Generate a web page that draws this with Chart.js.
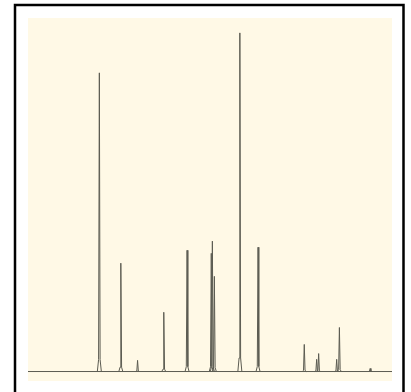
<!DOCTYPE html>
<html>
<head>
<meta charset="utf-8">
<style>
  html, body { margin: 0; padding: 0; background: #ffffff; }
  #wrap { width: 411px; height: 392px; position: relative; }
</style>
<script src="https://cdn.jsdelivr.net/npm/chart.js@4/dist/chart.umd.min.js"></script>
</head>
<body>
<div id="wrap"><canvas id="c" width="411" height="392"></canvas></div>
<script>
// Peak positions (arbitrary x units, 0-100) and relative intensities (tallest = 100)
const peakX      = [19.6, 25.5, 30.1, 37.3, 43.7, 50.35, 50.65, 51.2, 58.2, 63.2, 75.9, 79.3, 79.85, 84.8, 85.55, 94.0];
const peakHeight = [88.2, 32.0,  3.3, 17.5, 35.8, 34.9,  38.5,  28.1, 100,  36.7,  8.0,  3.6,  5.3,   3.6, 13.0,   0.9];
const baselineX  = [0, 100];
const baselineY  = [0, 0];

const HALF_W = 0.14;
const FOOT_W = 0.55;
const LINE_COLOR = '#5c5c52';

const datasets = [];
datasets.push({
  data: baselineX.map((x, i) => ({ x: x, y: baselineY[i] })),
  borderColor: LINE_COLOR, borderWidth: 1, pointRadius: 0, fill: false
});
peakX.forEach((x, i) => {
  datasets.push({
    data: [
      { x: x - FOOT_W, y: 0 },
      { x: x - HALF_W * 1.5, y: peakHeight[i] * 0.04 },
      { x: x, y: peakHeight[i] },
      { x: x + HALF_W * 1.5, y: peakHeight[i] * 0.04 },
      { x: x + FOOT_W, y: 0 }
    ],
    borderColor: LINE_COLOR, borderWidth: 1, pointRadius: 0, fill: false, tension: 0
  });
});

const frame = {
  id: 'frame',
  beforeDraw(chart) {
    const { ctx, chartArea: a } = chart;
    ctx.save();
    ctx.fillStyle = '#fff9e6';
    ctx.fillRect(a.left, a.top, a.right - a.left, a.bottom - a.top);
    ctx.restore();
  },
  afterDraw(chart) {
    const ctx = chart.ctx;
    ctx.save();
    ctx.strokeStyle = '#000000';
    ctx.lineWidth = 2.5;
    ctx.beginPath();
    ctx.moveTo(15, 400);
    ctx.lineTo(15, 5);
    ctx.lineTo(403.5, 5);
    ctx.lineTo(403.5, 400);
    ctx.stroke();
    ctx.restore();
  }
};

new Chart(document.getElementById('c'), {
  type: 'line',
  data: { datasets: datasets },
  options: {
    responsive: false,
    animation: false,
    events: [],
    layout: { padding: { left: 28, top: 18, right: 19, bottom: 11 } },
    plugins: { legend: { display: false }, tooltip: { enabled: false } },
    elements: { point: { radius: 0 }, line: { borderJoinStyle: 'miter' } },
    scales: {
      x: { type: 'linear', min: 0, max: 100, display: false },
      y: { type: 'linear', min: -2.8, max: 104.4, display: false }
    }
  },
  plugins: [frame]
});
</script>
</body>
</html>
